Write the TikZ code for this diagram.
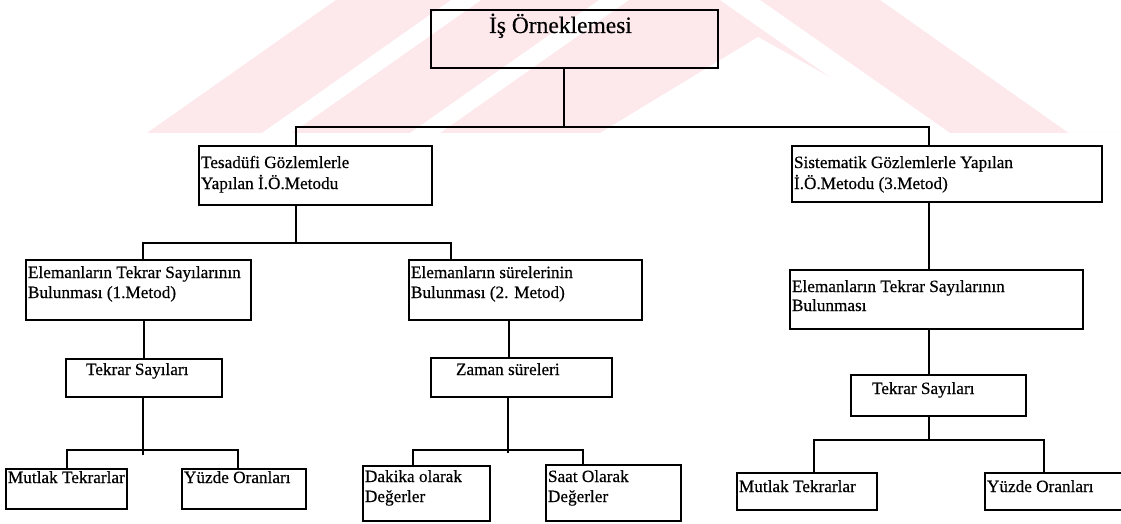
\documentclass[tikz,border=0pt]{standalone}
\usepackage{fontspec}
\setmainfont{Liberation Serif}[BoldFont={Liberation Serif}, BoldFeatures={FakeBold=0.4}]
\definecolor{wmpink}{RGB}{253,232,236}
\tikzset{
  box/.style={draw=black, line width=1.4pt, inner sep=0pt, outer sep=0pt, anchor=north west},
  lbl/.style={inner sep=0pt, outer sep=0pt, anchor=base west, font=\fontsize{17.2}{20}\selectfont\bfseries},
  rootlbl/.style={lbl, font=\fontsize{23.5}{26}\selectfont\bfseries},
  conn/.style={draw=black, line width=1.4pt},
}
% box given by its top-left and bottom-right corners (y grows downwards)
\newcommand\boxat[5]{\node[box, minimum width={(#4-#2)*1pt}, minimum height={(#5-#3)*1pt}] (#1) at (#2,#3) {};}
\begin{document}
\begin{tikzpicture}[x=1pt,y=-1pt]
\useasboundingbox (0,0) rectangle (1121,524);
\fill[white] (0,0) rectangle (1121,524);

% faint striped emblem in the background
\begin{scope}
  \clip (0,0) rectangle (1121,133);
  \fill[wmpink] (147,133) -- (336,0) -- (880,0) -- (1121,170) -- (1121,133) -- cycle;
  \fill[white] (262,133) -- (451,0) -- (481,0) -- (292,133) -- cycle;
  \fill[white] (410,133) -- (599,0) -- (629,0) -- (440,133) -- cycle;
  \fill[white] (758,37) -- (930,133) -- (600,133) -- cycle;
  \fill[white] (720,0) -- (760,0) -- (950,133) -- (910,133) -- cycle;
\end{scope}

% boxes
\boxat{root}{431}{10}{718}{68}
\boxat{tes}{199}{146}{432}{205}
\boxat{sis}{792}{146}{1102}{202}
\boxat{mA}{26}{260}{251}{320}
\boxat{mB}{409}{260}{642}{320}
\boxat{mC}{790}{270}{1083}{329}
\boxat{tsA}{66}{359}{222}{397}
\boxat{zs}{431}{358}{612}{397}
\boxat{tsC}{851}{375}{1026}{416}
\boxat{mtA}{6}{469}{127}{509}
\boxat{yoA}{182}{469}{306}{509}
\boxat{dk}{363}{466}{490}{521}
\boxat{st}{546}{465}{681}{521}
\boxat{mtC}{737}{473}{877}{510}
\boxat{yoC}{985}{473}{1126}{510}

% texts
\node[rootlbl] (rootT) at (489,33) {İş Örneklemesi};
\node[lbl] (tesT1) at (201,168) {Tesadüfi Gözlemlerle};
\node[lbl] (tesT2) at (201,189) {Yapılan İ.Ö.Metodu};
\node[lbl] (sisT1) at (794,168) {Sistematik Gözlemlerle Yapılan};
\node[lbl] (sisT2) at (794,189) {İ.Ö.Metodu (3.Metod)};
\node[lbl] (mAT1) at (28,278) {Elemanların Tekrar Sayılarının};
\node[lbl] (mAT2) at (28,298) {Bulunması (1.Metod)};
\node[lbl] (mBT1) at (411,278) {Elemanların sürelerinin};
\node[lbl] (mBT2) at (411,298) {Bulunması (2. Metod)};
\node[lbl] (mCT1) at (792,292) {Elemanların Tekrar Sayılarının};
\node[lbl] (mCT2) at (792,311) {Bulunması};
\node[lbl] (tsAT) at (86,375) {Tekrar Sayıları};
\node[lbl] (zsT) at (456,375) {Zaman süreleri};
\node[lbl] (tsCT) at (872,394) {Tekrar Sayıları};
\node[lbl] (mtAT) at (8,483) {Mutlak Tekrarlar};
\node[lbl] (yoAT) at (184,483) {Yüzde Oranları};
\node[lbl] (dkT1) at (365,482) {Dakika olarak};
\node[lbl] (dkT2) at (365,502) {Değerler};
\node[lbl] (stT1) at (548,482) {Saat Olarak};
\node[lbl] (stT2) at (548,502) {Değerler};
\node[lbl] (mtCT) at (739,492) {Mutlak Tekrarlar};
\node[lbl] (yoCT) at (987,492) {Yüzde Oranları};

% junction points of the tree
\coordinate (j0) at (564,127);
\coordinate (j1) at (296,243);
\coordinate (j2) at (143,450);
\coordinate (j3) at (508,450);
\coordinate (j4) at (929,440);
\coordinate (xTes) at (296,0);
\coordinate (xSis) at (929,0);
\coordinate (xmA) at (143,0);
\coordinate (xmB) at (451,0);
\coordinate (xmA2) at (144,0);
\coordinate (xmB2) at (509,0);
\coordinate (xmtA) at (67,0);
\coordinate (xyoA) at (238,0);
\coordinate (xdk) at (413,0);
\coordinate (xst) at (583,0);
\coordinate (xmtC) at (814,0);
\coordinate (xyoC) at (1044,0);

% connectors
\draw[conn] (root.south -| j0) -- (j0);
\draw[conn] (tes.north -| xTes) |- (j0) -| (sis.north -| xSis);
\draw[conn] (tes.south -| j1) -- (j1);
\draw[conn] (mA.north -| xmA) |- (j1) -| (mB.north -| xmB);
\draw[conn] (sis.south -| xSis) -- (mC.north -| xSis);
\draw[conn] (mA.south -| xmA2) -- (tsA.north -| xmA2);
\draw[conn] (mB.south -| xmB2) -- (zs.north -| xmB2);
\draw[conn] (mC.south -| xSis) -- (tsC.north -| xSis);
\draw[conn] (tsA.south -| j2) -- ([yshift=-5pt]j2);
\draw[conn] (mtA.north -| xmtA) |- (j2) -| (yoA.north -| xyoA);
\draw[conn] (zs.south -| j3) -- ([yshift=-3pt]j3);
\draw[conn] (dk.north -| xdk) |- (j3) -| (st.north -| xst);
\draw[conn] (tsC.south -| j4) -- (j4);
\draw[conn] (mtC.north -| xmtC) |- (j4) -| (yoC.north -| xyoC);
\end{tikzpicture}
\end{document}
